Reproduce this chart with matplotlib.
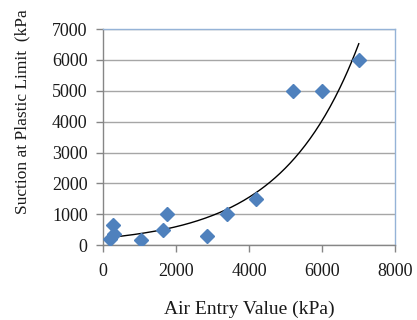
import numpy as np
import matplotlib
matplotlib.use("Agg")
import matplotlib.pyplot as plt

# Data
air_entry = [200, 300, 280, 1050, 1650, 1750, 2850, 3400, 4200, 5200, 6000, 7000]
suction = [200, 350, 650, 150, 500, 1000, 300, 1000, 1500, 5000, 5000, 6000]
x_ticks = [0, 2000, 4000, 6000, 8000]
y_ticks = [0, 1000, 2000, 3000, 4000, 5000, 6000, 7000]

plt.rcParams['font.family'] = ['Liberation Serif', 'DejaVu Serif']

fig = plt.figure(figsize=(4.17, 3.2), dpi=100)
ax = fig.add_axes([0.247, 0.234, 0.701, 0.675])

ax.set_xlim(0, 8000)
ax.set_ylim(0, 7000)
ax.set_xticks(x_ticks)
ax.set_yticks(y_ticks)
ax.tick_params(axis='both', labelsize=13, length=5, width=1, color='#868686',
               direction='out', labelcolor='#1a1a1a')
ax.tick_params(axis='x', pad=8)
ax.tick_params(axis='y', pad=6)
ax.yaxis.grid(True, color='#A6A6A6', linewidth=1)
ax.set_axisbelow(True)
for s in ['top', 'right']:
    ax.spines[s].set_color('#95B3D7')
    ax.spines[s].set_linewidth(1)
for s in ['left', 'bottom']:
    ax.spines[s].set_color('#868686')
    ax.spines[s].set_linewidth(1)

# Exponential trendline (Excel-like: fit on log y)
xa = np.array(air_entry, dtype=float)
ya = np.array(suction, dtype=float)
b, loga = np.polyfit(xa, np.log(ya), 1)
xx = np.linspace(xa.min(), xa.max(), 200)
ax.plot(xx, np.exp(loga) * np.exp(b * xx), color='black', linewidth=1.0, zorder=3)

ax.plot(air_entry, suction, linestyle='none', marker='D', markersize=7,
        color='#4F81BD', markeredgecolor='#4F81BD', zorder=4)

fig.text(0.597, 0.02, 'Air Entry Value (kPa)', fontsize=14, ha='center',
         va='baseline', color='#1a1a1a')
fig.text(0.053, 0.652, 'Suction at Plastic Limit  (kPa', rotation=90, fontsize=12.5,
         ha='center', va='center', color='#1a1a1a')

fig.savefig('out.png', dpi=100)
